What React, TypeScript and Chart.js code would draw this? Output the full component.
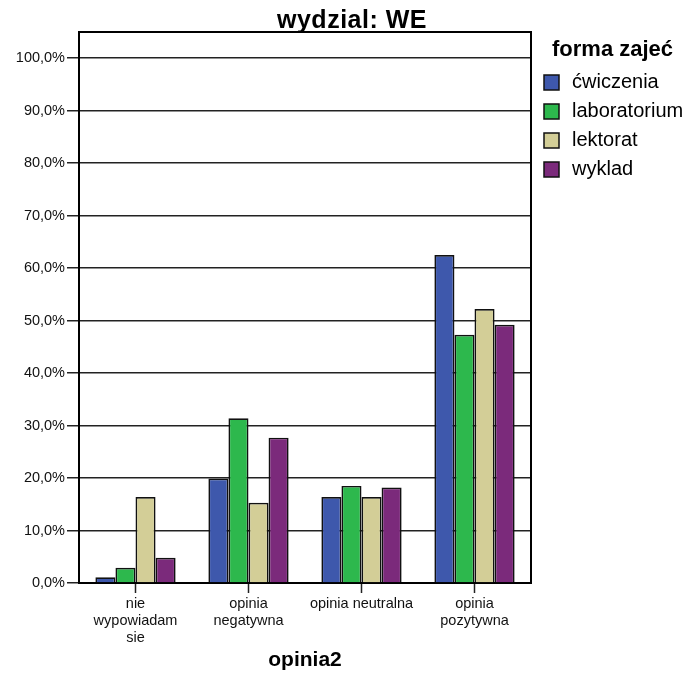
import React, { useEffect, useRef } from "react";
import { Chart, registerables } from "chart.js";

Chart.register(...registerables);

const chartTitle = "wydzial: WE";
const legendTitle = "forma zajeć";
const axisTitle = "opinia2";
const categories: (string | string[])[] = [
  ["nie", "wypowiadam", "sie"],
  ["opinia", "negatywna"],
  "opinia neutralna",
  ["opinia", "pozytywna"],
];
const seriesNames = ["ćwiczenia", "laboratorium", "lektorat", "wyklad"];
const cwiczenia = [1.1, 19.9, 16.4, 62.5];
const laboratorium = [2.9, 31.4, 18.5, 47.3];
const lektorat = [16.4, 15.3, 16.4, 52.2];
const wyklad = [4.8, 27.7, 18.2, 49.2];
const seriesColors = ["#3e58ac", "#2db84d", "#d3ce97", "#7b2a7b"];
const yTicks = [0, 10, 20, 30, 40, 50, 60, 70, 80, 90, 100];

const FONT = "'Liberation Sans', Arial, Helvetica, sans-serif";

const decorPlugin = {
  id: "decor",
  afterDraw(chart: any) {
    const { ctx, chartArea } = chart;
    ctx.save();
    // plot box top & right
    ctx.strokeStyle = "#000";
    ctx.lineWidth = 2;
    ctx.beginPath();
    ctx.moveTo(chartArea.left, chartArea.top);
    ctx.lineTo(chartArea.right, chartArea.top);
    ctx.lineTo(chartArea.right, chartArea.bottom);
    ctx.stroke();
    // title
    ctx.fillStyle = "#000";
    ctx.font = `bold 25px ${FONT}`;
    try { (ctx as any).letterSpacing = "0.5px"; } catch (e) {}
    ctx.textAlign = "center";
    ctx.textBaseline = "alphabetic";
    ctx.fillText(chartTitle, 352, 28);
    try { (ctx as any).letterSpacing = "0px"; } catch (e) {}
    // legend
    ctx.textAlign = "left";
    ctx.font = `bold 22px ${FONT}`;
    ctx.fillText(legendTitle, 552, 56);
    ctx.font = `20px ${FONT}`;
    chart.data.datasets.forEach((ds: any, i: number) => {
      const base = 88 + i * 29;
      ctx.fillStyle = ds.backgroundColor;
      ctx.fillRect(544, base - 13, 15, 15);
      ctx.strokeStyle = "#111";
      ctx.lineWidth = 1.5;
      ctx.strokeRect(544, base - 13, 15, 15);
      ctx.fillStyle = "#000";
      ctx.fillText(ds.label, 572, base);
    });
    ctx.restore();
  },
};

export default function App() {
  const ref = useRef<HTMLCanvasElement>(null);
  useEffect(() => {
    document.body.style.margin = "0";
    const seriesData = [cwiczenia, laboratorium, lektorat, wyklad];
    const chart = new Chart(ref.current!, {
      type: "bar",
      data: {
        labels: categories,
        datasets: seriesNames.map((name, i) => ({
          label: name,
          data: seriesData[i],
          backgroundColor: seriesColors[i],
          borderColor: "#111",
          borderWidth: 1.7,
          categoryPercentage: 0.71,
          barPercentage: 1,
        })),
      },
      options: {
        responsive: false,
        animation: false,
        layout: { padding: { top: 32, right: 160, bottom: 0, left: 0 } },
        plugins: {
          legend: { display: false },
          title: { display: false },
          tooltip: { enabled: false },
        },
        scales: {
          x: {
            afterFit: (s: any) => { s.height = 97; },
            grid: {
              display: true,
              drawOnChartArea: false,
              offset: false,
              tickLength: 10,
              tickColor: "#222",
              tickWidth: 1.5,
            },
            border: { display: true, color: "#000", width: 2 },
            ticks: {
              color: "#111",
              font: { family: FONT, size: 14.5, lineHeight: 1.17 },
              padding: 3,
              maxRotation: 0,
              autoSkip: false,
            },
            title: {
              display: true,
              text: axisTitle,
              color: "#000",
              font: { family: FONT, size: 21, weight: "bold" },
              padding: { top: 0, bottom: 7 },
            },
          },
          y: {
            min: 0,
            max: 105,
            afterFit: (s: any) => { s.width = 79; },
            afterBuildTicks: (s: any) => {
              s.ticks = yTicks.map((v) => ({ value: v }));
            },
            grid: {
              color: "#222",
              lineWidth: 1.5,
              tickLength: 12,
              tickColor: "#222",
            },
            border: { display: true, color: "#000", width: 2 },
            ticks: {
              color: "#111",
              font: { family: FONT, size: 14.5 },
              padding: 2,
              callback: (v: any) => Number(v).toFixed(1).replace(".", ",") + "%",
            },
          },
        },
      },
      plugins: [decorPlugin],
    });
    return () => chart.destroy();
  }, []);
  return (
    <div style={{ width: 691, height: 680 }}>
      <canvas ref={ref} width={691} height={680} style={{ width: 691, height: 680, display: "block" }} />
    </div>
  );
}
